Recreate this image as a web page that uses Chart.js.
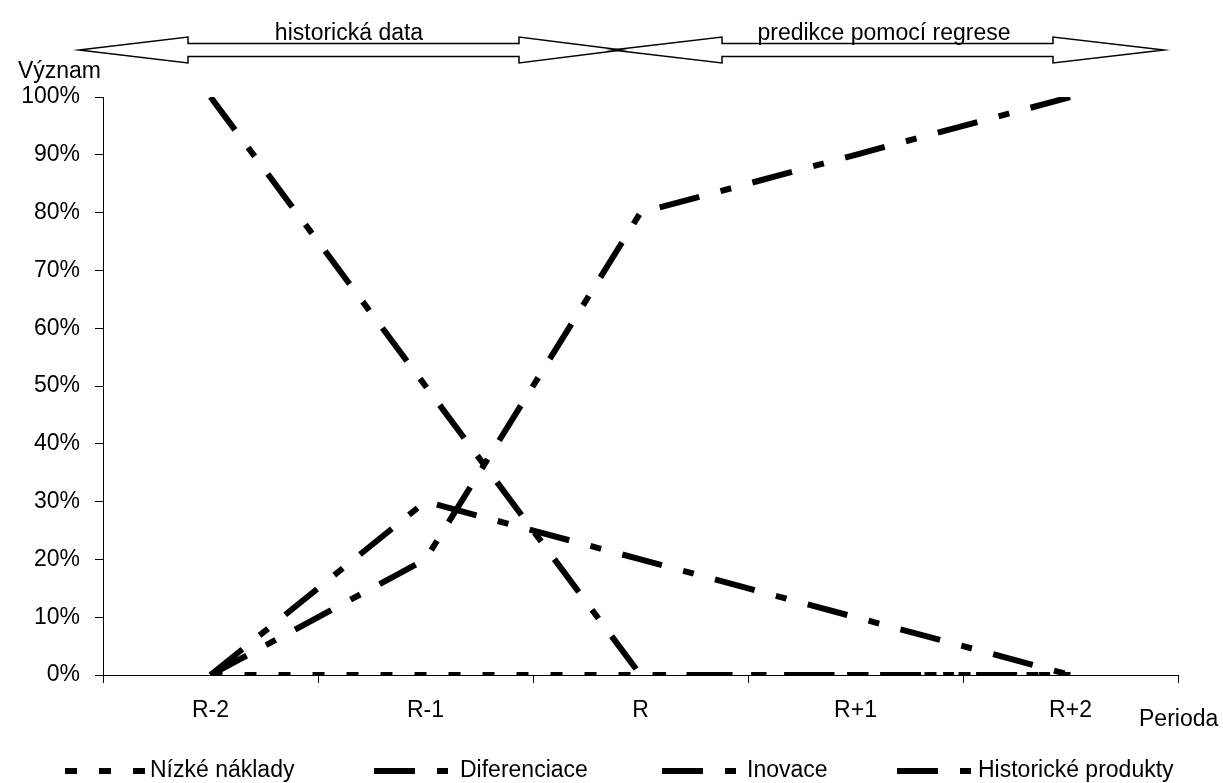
<!DOCTYPE html>
<html lang="cs">
<head>
    <meta charset="UTF-8">
    <title>Význam strategií v čase</title>
    <script src="https://cdn.jsdelivr.net/npm/chart.js"></script>
    <style>
        html, body { margin: 0; padding: 0; background: #fff; }
        #wrap { width: 1223px; height: 783px; }
    </style>
</head>
<body>
<div id="wrap"><canvas id="myChart" width="1223" height="783"></canvas></div>

<script>
    // data
    const categories = ['R-2', 'R-1', 'R', 'R+1', 'R+2'];
    const nizkeNaklady = [0, 0, 0, 0, 0];
    const diferenciace = [100, 50, 0, 0, 0];
    const inovace = [0, 20, 80, 90, 100];
    const historickeProdukty = [0, 30, 20, 10, 0];
    const seriesNames = ['Nízké náklady', 'Diferenciace', 'Inovace', 'Historické produkty'];
    const yTicks = [0, 10, 20, 30, 40, 50, 60, 70, 80, 90, 100];

    const FONT = '"Liberation Sans", Arial, sans-serif';
    const dashShort = [12, 22];
    const dashLong = [41, 22, 11, 22];

    // legend sample start x and text start x
    const legendPos = [
        { x: 65, w: 80, tx: 150 },
        { x: 374, w: 74, tx: 460 },
        { x: 662, w: 75, tx: 747 },
        { x: 897, w: 78, tx: 978 }
    ];

    function drawArrow(ctx, tipL, baseL, baseR, tipR) {
        ctx.beginPath();
        ctx.moveTo(tipL, 50);
        ctx.lineTo(baseL, 37);
        ctx.lineTo(baseL, 43.5);
        ctx.lineTo(baseR, 43.5);
        ctx.lineTo(baseR, 37);
        ctx.lineTo(tipR, 50);
        ctx.lineTo(baseR, 63);
        ctx.lineTo(baseR, 56.5);
        ctx.lineTo(baseL, 56.5);
        ctx.lineTo(baseL, 63);
        ctx.closePath();
        ctx.stroke();
    }

    const extras = {
        id: 'extras',
        afterDraw(chart) {
            const ctx = chart.ctx;
            ctx.save();
            ctx.strokeStyle = '#000';
            ctx.lineWidth = 1.5;
            ctx.setLineDash([]);
            drawArrow(ctx, 79, 188, 519, 622);
            drawArrow(ctx, 612, 722, 1053, 1164);

            ctx.fillStyle = '#000';
            ctx.font = '23px ' + FONT;
            ctx.textBaseline = 'alphabetic';
            ctx.textAlign = 'center';
            ctx.fillText('historická data', 349, 40);
            ctx.fillText('predikce pomocí regrese', 884, 40);

            ctx.textAlign = 'right';
            ctx.fillText('Význam', 101, 78);

            ctx.textAlign = 'left';
            ctx.textBaseline = 'middle';
            ctx.fillText('Perioda', 1139, 720);

            // legend
            chart.data.datasets.forEach((ds, i) => {
                const p = legendPos[i];
                ctx.beginPath();
                ctx.lineWidth = 6;
                ctx.lineCap = 'butt';
                ctx.setLineDash(ds.borderDash);
                ctx.moveTo(p.x, 771);
                ctx.lineTo(p.x + p.w, 771);
                ctx.stroke();
                ctx.setLineDash([]);
                ctx.fillText(ds.label, p.tx, 771);
            });
            ctx.restore();
        }
    };

    function makeSet(label, data, dash, width) {
        return {
            label: label,
            data: data,
            borderColor: '#000',
            backgroundColor: '#000',
            borderWidth: width,
            borderDash: dash,
            borderCapStyle: 'butt',
            pointRadius: 0,
            tension: 0,
            fill: false
        };
    }

    const ctx = document.getElementById('myChart').getContext('2d');
    const chart = new Chart(ctx, {
        type: 'line',
        data: {
            labels: categories,
            datasets: [
                makeSet(seriesNames[0], nizkeNaklady, dashShort, 6),
                makeSet(seriesNames[1], diferenciace, dashLong, 6),
                makeSet(seriesNames[2], inovace, dashLong, 6),
                makeSet(seriesNames[3], historickeProdukty, dashLong, 6)
            ]
        },
        options: {
            responsive: false,
            animation: false,
            layout: { padding: { top: 97, right: 45, left: 0, bottom: 0 } },
            plugins: {
                legend: { display: false },
                tooltip: { enabled: false }
            },
            scales: {
                x: {
                    offset: true,
                    grid: { offset: true, drawOnChartArea: false, drawTicks: true, tickLength: 8, color: '#000' },
                    border: { color: '#000', width: 1 },
                    ticks: { color: '#000', font: { family: FONT, size: 23 }, padding: 14, maxRotation: 0 },
                    afterFit(s) { s.height = 108; }
                },
                y: {
                    min: 0,
                    max: 100,
                    afterBuildTicks(s) { s.ticks = yTicks.map(v => ({ value: v })); },
                    grid: { drawOnChartArea: false, drawTicks: true, tickLength: 8, color: '#000' },
                    border: { color: '#000', width: 1 },
                    ticks: {
                        color: '#000',
                        font: { family: FONT, size: 23 },
                        padding: 15,
                        callback: v => v + '%'
                    },
                    afterFit(s) { s.width = 103; }
                }
            }
        },
        plugins: [extras]
    });
</script>
</body>
</html>
